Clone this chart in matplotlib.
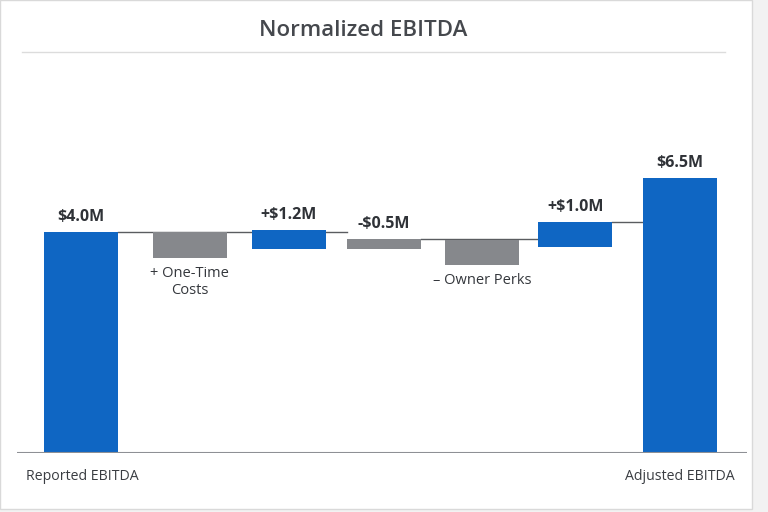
# normalized EBITDA bridge, waterfall style

import matplotlib.pyplot as plt
from matplotlib.patches import Rectangle

plt.rcParams['font.family'] = ['Open Sans', 'DejaVu Sans']

# bar extents in $M, as drawn
steps = ["Reported EBITDA", "+ One-Time\nCosts", "+$1.2M", "-$0.5M", "\u2013 Owner Perks", "+$1.0M", "Adjusted EBITDA"]
bottoms = [0.0, 3.53, 3.69, 3.69, 3.40, 3.73, 0.0]
tops = [4.0, 4.0, 4.04, 3.87, 3.86, 4.18, 4.98]
kinds = ["total", "down", "up", "down", "down", "up", "total"]
value_labels = ["$4.0M", "", "+$1.2M", "-$0.5M", "", "+$1.0M", "$6.5M"]
under_labels = ["", "+ One-Time\nCosts", "", "", "\u2013 Owner Perks", "", ""]

# connector lines: (from bar, to bar, level)
connectors = [(0, 2, 4.0), (2, 3, 4.0), (3, 5, 3.87), (5, 6, 4.18)]

# layout: bar centres are not quite evenly spaced in the original
xpos = [0, 1.09, 2.08, 3.035, 4.02, 4.95, 6.0]

blue = "#0f66c3"
grey = "#86888c"

fig = plt.figure(figsize=(7.68, 5.12), dpi=100)
fig.patch.set_facecolor("#f2f2f2")
card = Rectangle((0.0, 0.006), 0.979, 0.994, transform=fig.transFigure,
                 facecolor="white", edgecolor="#d9d9d9", lw=1.0, zorder=-1)
fig.patches.append(card)

ax = fig.add_axes([17 / 768, 59 / 512, 730 / 768, 393 / 512])
ax.set_facecolor("none")

w = 0.74
for i in range(len(steps)):
    col = grey if kinds[i] == "down" else blue
    ax.bar(xpos[i], tops[i] - bottoms[i], bottom=bottoms[i], width=w, color=col, zorder=3)

for a, b, lvl in connectors:
    ax.plot([xpos[a] + w / 2, xpos[b] - w / 2], [lvl, lvl], color="#5a5c60", lw=1.0, zorder=2)

for i in range(len(steps)):
    if value_labels[i]:
        ax.text(xpos[i], tops[i] + 0.12, value_labels[i], ha="center", va="bottom",
                fontsize=11.5, fontweight="bold", color="#2f3237")
    if under_labels[i]:
        ax.text(xpos[i], bottoms[i] - 0.15, under_labels[i], ha="center", va="top",
                fontsize=10.5, color="#34373c", linespacing=1.2)

ax.axhline(0, color="#8e9095", lw=1.5, zorder=4)

ax.set_xlim(-0.641, 6.671)
ax.set_ylim(0, 7.11)
ax.axis("off")

ax.text(-0.55, -0.42, steps[0], ha="left", va="center", fontsize=10.2, color="#3a3d42")
ax.text(5.55 + 1.0, -0.42, steps[-1], ha="right", va="center", fontsize=10.2, color="#3a3d42")

fig.text(363 / 768, 1 - 31 / 512, "Normalized EBITDA", ha="center", va="center",
         fontsize=16, fontweight="semibold", color="#45484d")
fig.add_artist(plt.Line2D([22 / 768, 725 / 768], [1 - 52 / 512, 1 - 52 / 512],
                          color="#dcdcdc", lw=1.0))

plt.savefig("out.png", dpi=100, facecolor=fig.get_facecolor())
